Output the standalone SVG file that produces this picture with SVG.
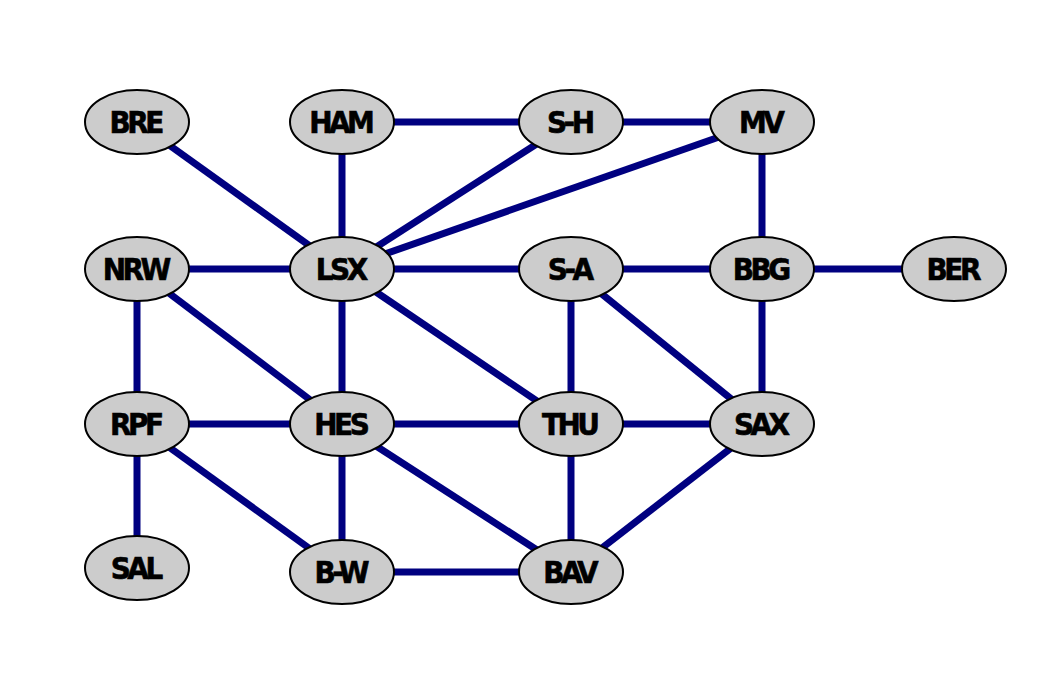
<svg xmlns="http://www.w3.org/2000/svg" width="1052" height="673" viewBox="0 0 1052 673">
<style>
.e{stroke:#000080;stroke-width:7;fill:none}
.n ellipse{fill:#cccccc;stroke:#000;stroke-width:2}
.n text{font-family:"DejaVu Sans Condensed","DejaVu Sans",sans-serif;font-stretch:condensed;font-weight:bold;font-size:31px;letter-spacing:-3.5px;text-anchor:middle;dominant-baseline:central;fill:#000;stroke:#000;stroke-width:0.6px;transform:translateX(-1.75px)}
</style>
<rect width="1052" height="673" fill="#fff"/>
<g id="edges">
<line class="e" x1="137" y1="122" x2="342" y2="269"/>
<line class="e" x1="342" y1="122" x2="342" y2="269"/>
<line class="e" x1="342" y1="122" x2="571" y2="122"/>
<line class="e" x1="571" y1="122" x2="762" y2="122"/>
<line class="e" x1="571" y1="122" x2="342" y2="269"/>
<line class="e" x1="762" y1="122" x2="342" y2="269"/>
<line class="e" x1="762" y1="122" x2="762" y2="269"/>
<line class="e" x1="137" y1="269" x2="342" y2="269"/>
<line class="e" x1="342" y1="269" x2="571" y2="269"/>
<line class="e" x1="571" y1="269" x2="762" y2="269"/>
<line class="e" x1="762" y1="269" x2="954" y2="269"/>
<line class="e" x1="137" y1="269" x2="137" y2="424"/>
<line class="e" x1="137" y1="269" x2="342" y2="424"/>
<line class="e" x1="342" y1="269" x2="342" y2="424"/>
<line class="e" x1="342" y1="269" x2="571" y2="424"/>
<line class="e" x1="571" y1="269" x2="571" y2="424"/>
<line class="e" x1="571" y1="269" x2="762" y2="424"/>
<line class="e" x1="762" y1="269" x2="762" y2="424"/>
<line class="e" x1="137" y1="424" x2="342" y2="424"/>
<line class="e" x1="342" y1="424" x2="571" y2="424"/>
<line class="e" x1="571" y1="424" x2="762" y2="424"/>
<line class="e" x1="137" y1="424" x2="137" y2="568"/>
<line class="e" x1="137" y1="424" x2="342" y2="572"/>
<line class="e" x1="342" y1="424" x2="342" y2="572"/>
<line class="e" x1="342" y1="424" x2="571" y2="572"/>
<line class="e" x1="571" y1="424" x2="571" y2="572"/>
<line class="e" x1="762" y1="424" x2="571" y2="572"/>
<line class="e" x1="342" y1="572" x2="571" y2="572"/>
</g>
<g id="BRE" class="n"><ellipse cx="137" cy="122" rx="52" ry="32"/><text x="137" y="122">BRE</text></g>
<g id="HAM" class="n"><ellipse cx="342" cy="122" rx="52" ry="32"/><text x="342" y="122">HAM</text></g>
<g id="S-H" class="n"><ellipse cx="571" cy="122" rx="52" ry="32"/><text x="571" y="122">S-H</text></g>
<g id="MV" class="n"><ellipse cx="762" cy="122" rx="52" ry="32"/><text x="762" y="122">MV</text></g>
<g id="NRW" class="n"><ellipse cx="137" cy="269" rx="52" ry="32"/><text x="137" y="269">NRW</text></g>
<g id="LSX" class="n"><ellipse cx="342" cy="269" rx="52" ry="32"/><text x="342" y="269">LSX</text></g>
<g id="S-A" class="n"><ellipse cx="571" cy="269" rx="52" ry="32"/><text x="571" y="269">S-A</text></g>
<g id="BBG" class="n"><ellipse cx="762" cy="269" rx="52" ry="32"/><text x="762" y="269">BBG</text></g>
<g id="BER" class="n"><ellipse cx="954" cy="269" rx="52" ry="32"/><text x="954" y="269">BER</text></g>
<g id="RPF" class="n"><ellipse cx="137" cy="424" rx="52" ry="32"/><text x="137" y="424">RPF</text></g>
<g id="HES" class="n"><ellipse cx="342" cy="424" rx="52" ry="32"/><text x="342" y="424">HES</text></g>
<g id="THU" class="n"><ellipse cx="571" cy="424" rx="52" ry="32"/><text x="571" y="424">THU</text></g>
<g id="SAX" class="n"><ellipse cx="762" cy="424" rx="52" ry="32"/><text x="762" y="424">SAX</text></g>
<g id="SAL" class="n"><ellipse cx="137" cy="568" rx="52" ry="32"/><text x="137" y="568">SAL</text></g>
<g id="B-W" class="n"><ellipse cx="342" cy="572" rx="52" ry="32"/><text x="342" y="572">B-W</text></g>
<g id="BAV" class="n"><ellipse cx="571" cy="572" rx="52" ry="32"/><text x="571" y="572">BAV</text></g>
</svg>
